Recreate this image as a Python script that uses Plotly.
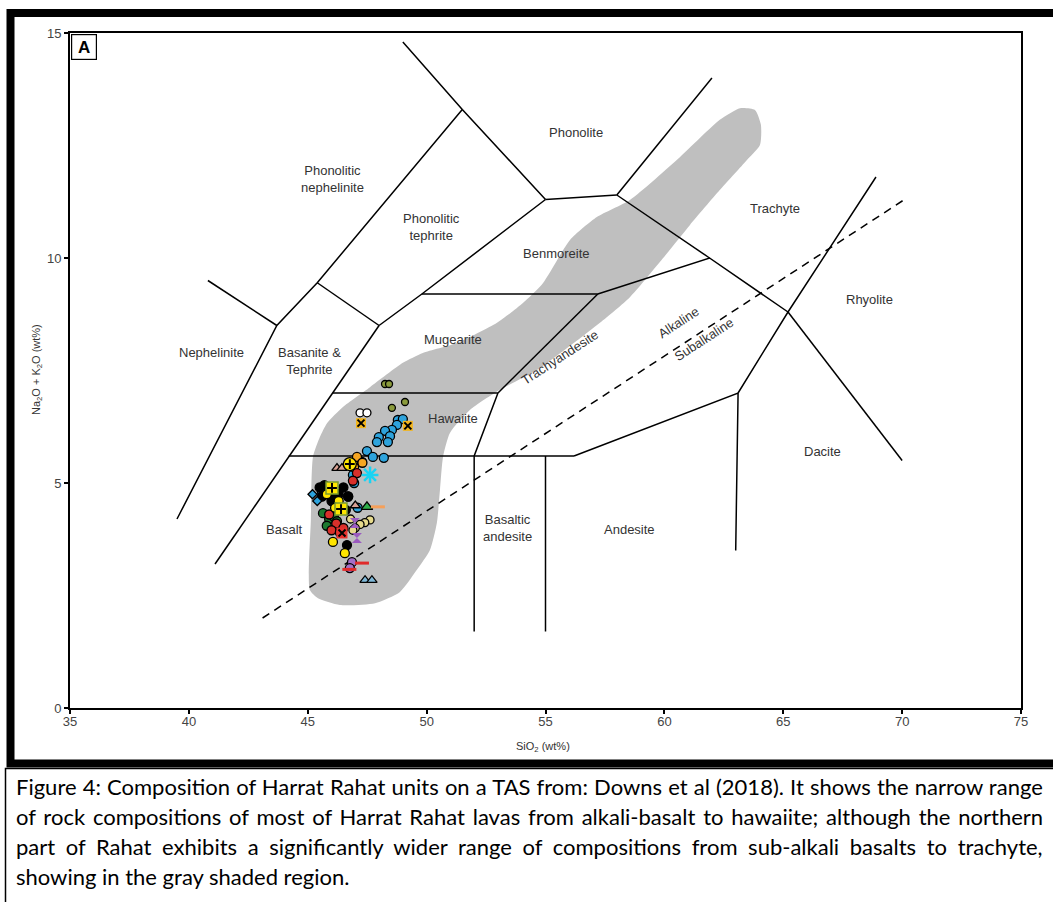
import plotly.graph_objects as go

# ---------------------------------------------------------------
# TAS field boundaries (SiO2 wt%, Na2O+K2O wt%)
# ---------------------------------------------------------------
boundary_segments = [
    [(49.0, 14.8), (51.5, 13.3), (55.0, 11.3)],
    [(51.5, 13.3), (45.4, 9.45), (43.7, 8.5), (39.5, 4.2)],
    [(40.8, 9.5), (43.7, 8.5)],
    [(45.4, 9.45), (48.0, 8.5)],
    [(48.0, 8.5), (46.05, 7.0), (44.2, 5.6), (41.1, 3.2)],
    [(48.0, 8.5), (49.8, 9.2), (55.0, 11.3)],
    [(49.8, 9.2), (57.2, 9.2)],
    [(55.0, 11.3), (58.0, 11.4)],
    [(58.0, 11.4), (62.0, 14.0)],
    [(58.0, 11.4), (61.9, 10.0)],
    [(57.2, 9.2), (61.9, 10.0), (65.2, 8.8)],
    [(46.05, 7.0), (53.0, 7.0)],
    [(53.0, 7.0), (57.2, 9.2)],
    [(53.0, 7.0), (52.0, 5.6), (52.0, 1.7)],
    [(44.2, 5.6), (56.2, 5.6)],
    [(55.0, 5.6), (55.0, 1.7)],
    [(56.2, 5.6), (63.1, 7.0), (63.0, 3.5)],
    [(68.9, 11.8), (65.2, 8.8), (63.1, 7.0)],
    [(65.2, 8.8), (70.0, 5.5)],
]

# Alkaline / subalkaline divide
divide_sio2 = [43.1, 70.1]
divide_alk = [2.0, 11.3]

# Northern Rahat compositional envelope
envelope_sio2 = [45.09, 45.13, 45.22, 45.51, 45.81, 46.48, 47.62, 49.0, 49.84, 51.27,
                 52.96, 54.05, 54.89, 56.03, 57.16, 58.55, 60.65, 62.33, 63.18, 63.81,
                 64.06, 64.02, 63.39, 62.33, 61.07, 59.81, 58.55, 57.29, 54.64, 53.08,
                 51.82, 50.98, 50.69, 50.56, 50.43, 50.14, 49.59, 48.88, 47.83, 46.35,
                 45.43]
envelope_alk = [2.62, 4.18, 5.58, 6.02, 6.33, 6.69, 7.13, 7.67, 7.89, 8.11,
                8.56, 9.0, 9.44, 10.4, 10.91, 11.29, 12.24, 13.07, 13.33, 13.29,
                12.96, 12.51, 12.13, 11.51, 10.73, 9.91, 9.13, 8.56, 7.51, 7.07,
                6.62, 6.11, 5.58, 4.84, 4.11, 3.51, 3.07, 2.58, 2.33, 2.29,
                2.44]

# ---------------------------------------------------------------
# Harrat Rahat unit analyses
# ---------------------------------------------------------------
blue_sio2 = [48.79, 49.0, 48.75, 48.54, 48.25, 48.46, 47.99, 47.91, 48.37, 47.49,
             47.74, 48.2, 47.28, 46.9, 46.95, 46.7, 45.6, 47.1]
blue_alk = [6.4, 6.42, 6.29, 6.18, 6.16, 6.04, 6.02, 5.91, 5.91, 5.71,
            5.58, 5.56, 5.47, 5.18, 5.0, 4.7, 4.8, 4.45]
olive_sio2 = [48.25, 48.42, 48.54, 49.09]
olive_alk = [7.2, 7.2, 6.67, 6.8]
white_sio2 = [47.2, 47.49]
white_alk = [6.56, 6.56]
gold_sio2 = [47.24, 49.21]
gold_alk = [6.33, 6.27]
orange_sio2 = [47.07, 47.3, 46.95]
orange_alk = [5.58, 5.45, 5.35]
ringed_sio2 = [46.77]
ringed_alk = [5.42]
star_sio2 = [47.62]
star_alk = [5.18]
pink_sio2 = [46.23, 46.44, 45.95, 47.0]
pink_alk = [5.33, 5.33, 4.2, 4.5]
red_sio2 = [47.07, 46.9, 46.2, 46.0, 46.35, 45.9, 46.5]
red_alk = [5.22, 5.05, 4.1, 3.95, 3.9, 4.3, 4.0]
black_sio2 = [45.5, 45.7, 45.9, 46.1, 46.3, 46.5, 46.7, 45.6, 46.0, 46.6, 46.65]
black_alk = [4.9, 4.95, 4.85, 4.8, 4.75, 4.9, 4.7, 4.7, 4.6, 4.4, 3.62]
yplus_sio2 = [46.02, 46.4]
yplus_alk = [4.89, 4.42]
green_tri_sio2 = [47.49]
green_tri_alk = [4.47]
orange_dash_sio2 = [47.95]
orange_dash_alk = [4.47]
tan_sio2 = [47.62, 47.4, 47.2, 47.0, 46.9, 46.8]
tan_alk = [4.18, 4.12, 4.08, 4.0, 3.95, 4.2]
purple_x_sio2 = [46.98, 47.07]
purple_x_alk = [4.11, 3.78]
red_sq_sio2 = [46.44]
red_sq_alk = [3.89]
yellow_sio2 = [46.06, 46.56, 46.3, 45.8, 46.15]
yellow_alk = [3.69, 3.44, 4.6, 4.75, 4.45]
purple_sio2 = [46.86, 46.77]
purple_alk = [3.24, 3.11]
red_dash_sio2 = [47.28, 46.75]
red_dash_alk = [3.22, 3.08]
ltblue_tri_sio2 = [47.41, 47.7]
ltblue_tri_alk = [2.84, 2.84]
green_sio2 = [45.64, 45.9, 46.1, 45.8, 46.23]
green_alk = [4.33, 4.2, 4.25, 4.05, 4.15]
diamond_sio2 = [45.2, 45.4]
diamond_alk = [4.75, 4.6]

field_labels = [
    ("Phonolite", 56.28, 12.78, 0),
    ("Phonolitic<br>nephelinite", 46.06, 11.76, 0),
    ("Phonolitic<br>tephrite", 50.22, 10.69, 0),
    ("Benmoreite", 55.44, 10.09, 0),
    ("Trachyte", 64.65, 11.11, 0),
    ("Rhyolite", 68.64, 9.07, 0),
    ("Nephelinite", 40.97, 7.91, 0),
    ("Basanite &<br>Tephrite", 45.09, 7.71, 0),
    ("Mugearite", 51.11, 8.18, 0),
    ("Hawaiite", 51.11, 6.44, 0),
    ("Trachyandesite", 55.6, 7.78, -33),
    ("Alkaline", 60.6, 8.56, -33),
    ("Subalkaline", 61.65, 8.2, -33),
    ("Dacite", 66.67, 5.69, 0),
    ("Basalt", 44.04, 3.96, 0),
    ("Basaltic<br>andesite", 53.42, 4.0, 0),
    ("Andesite", 58.55, 3.96, 0),
]

W, H = 1053, 902
L, R, T, B = 70, 1021, 33, 708


def px(x):
    return (x - L) / (R - L)


def py(y):
    return (B - y) / (B - T)


fig = go.Figure()

fig.add_trace(go.Scatter(x=envelope_sio2 + [envelope_sio2[0]],
                         y=envelope_alk + [envelope_alk[0]],
                         mode="lines", fill="toself",
                         fillcolor="rgb(191,191,191)",
                         line=dict(color="rgb(191,191,191)", width=0, shape="spline", smoothing=0.6),
                         hoverinfo="skip", showlegend=False))

for seg in boundary_segments:
    fig.add_trace(go.Scatter(x=[p[0] for p in seg], y=[p[1] for p in seg],
                             mode="lines", line=dict(color="black", width=1.5),
                             hoverinfo="skip", showlegend=False))

fig.add_trace(go.Scatter(x=divide_sio2, y=divide_alk, mode="lines",
                         line=dict(color="black", width=1.5, dash="8px,6px"),
                         hoverinfo="skip", showlegend=False))

OUT = dict(color="black", width=1.3)


def pts(xs, ys, **marker):
    fig.add_trace(go.Scatter(x=xs, y=ys, mode="markers", marker=marker,
                             showlegend=False))


pts(olive_sio2, olive_alk, size=7, color="#8a9a3c", line=OUT)
pts(white_sio2, white_alk, size=8, color="white", line=OUT)
pts(blue_sio2, blue_alk, size=9, color="#2ea3dc", line=OUT)
pts(gold_sio2, gold_alk, size=10, symbol="square", color="#f2b51c", line=dict(width=0))
pts(gold_sio2, gold_alk, size=7, symbol="x-thin", line=dict(color="black", width=2))
pts(orange_sio2, orange_alk, size=9, color="#f5a623", line=OUT)
pts(pink_sio2, pink_alk, size=9, symbol="triangle-up", color="#d7a093", line=OUT)
pts(black_sio2, black_alk, size=9, color="black", line=OUT)
pts(green_sio2, green_alk, size=9, color="#1d7a30", line=OUT)
pts(red_sio2, red_alk, size=9, color="#d9302b", line=OUT)
pts(yellow_sio2, yellow_alk, size=9, color="#ffe500", line=OUT)
pts(tan_sio2, tan_alk, size=8, color="#e6da8c", line=OUT)
pts(ringed_sio2, ringed_alk, size=13, color="#ffe500", line=OUT)
pts(ringed_sio2, ringed_alk, size=7, symbol="cross-thin", line=dict(color="black", width=2))
pts(star_sio2, star_alk, size=14, symbol="asterisk-open", line=dict(color="#3b8fd9", width=2.5))
pts(yplus_sio2, yplus_alk, size=12, symbol="square", color="#ffe500", line=dict(color="#7a9a30", width=1.5))
pts(yplus_sio2, yplus_alk, size=7, symbol="cross-thin", line=dict(color="black", width=2))
pts(green_tri_sio2, green_tri_alk, size=10, symbol="triangle-up", color="#2eae4a", line=OUT)
pts(orange_dash_sio2, orange_dash_alk, size=10, symbol="line-ew", line=dict(color="#f5a05a", width=3))
pts(purple_x_sio2, purple_x_alk, size=10, symbol="hourglass", color="#9b5bc0", line=dict(width=0))
pts(red_sq_sio2, red_sq_alk, size=11, symbol="square", color="#e8322e", line=dict(width=0))
pts(red_sq_sio2, red_sq_alk, size=7, symbol="x-thin", line=dict(color="black", width=2))
pts(purple_sio2, purple_alk, size=9, color="#a46fc8", line=OUT)
pts(red_dash_sio2, red_dash_alk, size=10, symbol="line-ew", line=dict(color="#e02b2b", width=3))
pts(ltblue_tri_sio2, ltblue_tri_alk, size=9, symbol="triangle-up", color="#7fb8d8", line=OUT)
pts(diamond_sio2, diamond_alk, size=7, symbol="diamond", color="#2ea3dc", line=OUT)

LABEL_FONT = dict(family="Liberation Sans, Arial", size=13, color="#333333")

annotations = []
for text, x, y, ang in field_labels:
    annotations.append(dict(x=x, y=y, xref="x", yref="y", text=text, showarrow=False,
                            xanchor="center", yanchor="middle",
                            textangle=ang, font=LABEL_FONT))

# panel letter
annotations.append(dict(x=px(84), y=py(47), xref="paper", yref="paper", text="<b>A</b>",
                        xanchor="center", yanchor="middle", width=22, height=22,
                        bordercolor="black", borderwidth=1.2, borderpad=1, bgcolor="white",
                        showarrow=False, font=dict(family="Liberation Sans, Arial", size=17, color="black")))

# axis titles
annotations.append(dict(x=px(543), y=py(747), xref="paper", yref="paper",
                        xanchor="center", yanchor="middle",
                        text="SiO<sub>2</sub> (wt%)", showarrow=False,
                        font=dict(family="Liberation Sans, Arial", size=11, color="#333333")))
annotations.append(dict(x=px(37), y=py(370), xref="paper", yref="paper", textangle=-90,
                        xanchor="center", yanchor="middle",
                        text="Na<sub>2</sub>O + K<sub>2</sub>O (wt%)", showarrow=False,
                        font=dict(family="Liberation Sans, Arial", size=11, color="#333333")))

caption = [
    "Figure 4: Composition of Harrat Rahat units on a TAS from: Downs et al (2018). It shows the narrow range",
    "of rock compositions of most of Harrat Rahat lavas from alkali-basalt to hawaiite; although the northern",
    "part of Rahat exhibits a significantly wider range of compositions from sub-alkali basalts to trachyte,",
    "showing in the gray shaded region.",
]
caption_word_gap = [0.5, 2.2, 5.0, 0.0]
for i, line in enumerate(caption):
    text = line
    if caption_word_gap[i] > 0:
        text = "<span style='word-spacing:%.1fpx'>%s</span>" % (caption_word_gap[i], line)
    annotations.append(dict(x=px(14), y=py(786 + 30 * i), xref="paper", yref="paper",
                            xanchor="left", yanchor="middle", text=text, showarrow=False,
                            font=dict(family="Lato, Open Sans, sans-serif", size=22, color="black")))

shapes = [
    # heavy outer frame
    dict(type="rect", xref="paper", yref="paper", x0=px(10.5), x1=px(1060), y0=py(763.5), y1=py(13),
         line=dict(color="black", width=8)),
    # caption box
    dict(type="rect", xref="paper", yref="paper", x0=px(5.5), x1=px(1060), y0=py(910), y1=py(768.5),
         line=dict(color="black", width=1.5)),
]

axis_common = dict(showgrid=False, zeroline=False, showline=True, linecolor="black", linewidth=2,
                   mirror=True, ticks="outside", ticklen=4, tickcolor="black", tickwidth=1.5,
                   tickfont=dict(family="Liberation Sans, Arial", size=13, color="#444444"))

fig.update_layout(
    width=W, height=H,
    margin=dict(l=L, r=W - R, t=T, b=H - B),
    paper_bgcolor="white", plot_bgcolor="white",
    xaxis=dict(range=[35, 75], tickvals=[35, 40, 45, 50, 55, 60, 65, 70, 75],
               ticklabelstandoff=-4, **axis_common),
    yaxis=dict(range=[0, 15], tickvals=[0, 5, 10, 15], **axis_common),
    annotations=annotations, shapes=shapes,
)

fig.write_html("out.html")
